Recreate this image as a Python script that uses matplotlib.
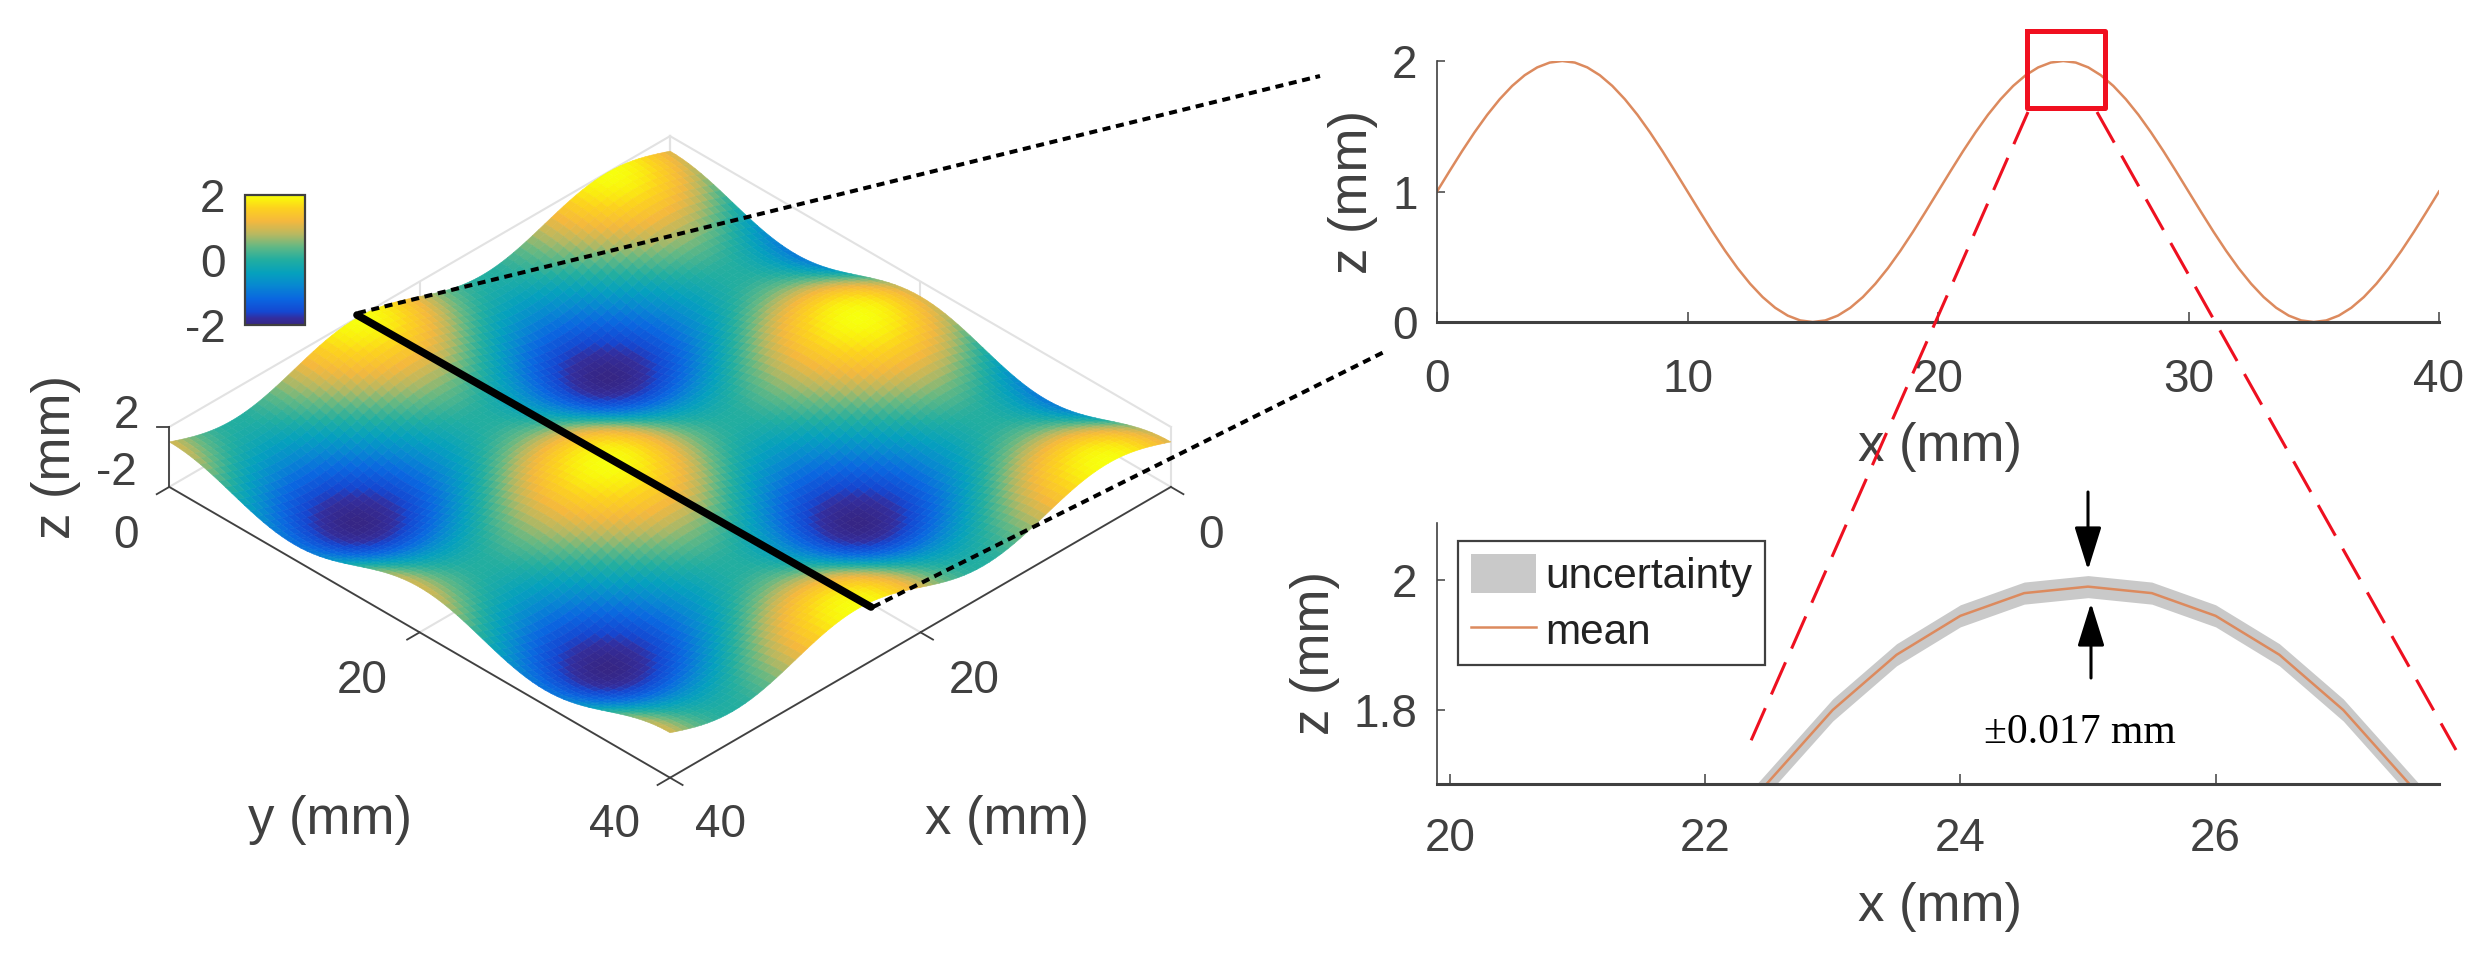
"""
Surface with a cross section and a zoomed view of the section peak
"""

import numpy as np
import matplotlib
matplotlib.use('Agg')
import matplotlib.pyplot as plt
from matplotlib.colors import LinearSegmentedColormap

W, H = 2483, 955
TEXT = '#404040'
ORANGE = '#DC8A5E'

plt.rcParams['font.family'] = ['Liberation Sans', 'DejaVu Sans']

# section through the surface, 0.5 mm steps
x_mm = [i * 0.5 for i in range(81)]
z_section = [1.000, 1.156, 1.309, 1.454, 1.588, 1.707, 1.809, 1.891, 1.951, 1.988,
             2.000, 1.988, 1.951, 1.891, 1.809, 1.707, 1.588, 1.454, 1.309, 1.156,
             1.000, 0.844, 0.691, 0.546, 0.412, 0.293, 0.191, 0.109, 0.049, 0.012,
             0.000, 0.012, 0.049, 0.109, 0.191, 0.293, 0.412, 0.546, 0.691, 0.844,
             1.000, 1.156, 1.309, 1.454, 1.588, 1.707, 1.809, 1.891, 1.951, 1.988,
             2.000, 1.988, 1.951, 1.891, 1.809, 1.707, 1.588, 1.454, 1.309, 1.156,
             1.000, 0.844, 0.691, 0.546, 0.412, 0.293, 0.191, 0.109, 0.049, 0.012,
             0.000, 0.012, 0.049, 0.109, 0.191, 0.293, 0.412, 0.546, 0.691, 0.844,
             1.000]
# height change along y, added to the section to get the surface
y_change = [1.000, 0.988, 0.951, 0.891, 0.809, 0.707, 0.588, 0.454, 0.309, 0.156,
            0.000, -0.156, -0.309, -0.454, -0.588, -0.707, -0.809, -0.891, -0.951, -0.988,
            -1.000, -0.988, -0.951, -0.891, -0.809, -0.707, -0.588, -0.454, -0.309, -0.156,
            0.000, 0.156, 0.309, 0.454, 0.588, 0.707, 0.809, 0.891, 0.951, 0.988,
            1.000, 0.988, 0.951, 0.891, 0.809, 0.707, 0.588, 0.454, 0.309, 0.156,
            0.000, -0.156, -0.309, -0.454, -0.588, -0.707, -0.809, -0.891, -0.951, -0.988,
            -1.000, -0.988, -0.951, -0.891, -0.809, -0.707, -0.588, -0.454, -0.309, -0.156,
            0.000, 0.156, 0.309, 0.454, 0.588, 0.707, 0.809, 0.891, 0.951, 0.988,
            1.000]

# zoomed view of the peak, 0.5 mm steps
x_zoom = [22.0, 22.5, 23.0, 23.5, 24.0, 24.5, 25.0, 25.5, 26.0, 26.5, 27.0, 27.5, 28.0]
z_mean = [1.58, 1.69, 1.80, 1.885, 1.945, 1.98, 1.99, 1.98, 1.945, 1.885, 1.80, 1.69, 1.58]
z_err = 0.017

# colours, bottom to top
cmap_stops = [0, 0.05, 0.1, 0.2, 0.3, 0.4, 0.5, 0.6, 0.7, 0.8, 0.9, 0.97, 1]
cmap_colors = [(0.21, 0.15, 0.52), (0.20, 0.18, 0.62), (0.08, 0.28, 0.82), (0.04, 0.40, 0.88),
               (0.03, 0.53, 0.82), (0.02, 0.63, 0.74), (0.13, 0.68, 0.63), (0.38, 0.72, 0.52),
               (0.72, 0.72, 0.38), (0.96, 0.72, 0.24), (0.99, 0.82, 0.12), (0.98, 0.95, 0.05),
               (0.97, 1.00, 0.05)]
surf_cmap = LinearSegmentedColormap.from_list('surf_cmap', list(zip(cmap_stops, cmap_colors)))


def px_axes(left, top, width, height, **kw):
    # axes placed by pixel box of the 2483x955 image
    return fig.add_axes([left / W, 1 - (top + height) / H, width / W, height / H], **kw)


fig = plt.figure(figsize=(W / 100, H / 100), dpi=100, facecolor='white')

# ---- 3D surface ----
# axes bigger than the box so nothing is clipped at the corners
ax3 = px_axes(2.5, -175.5, 1300, 1300, projection='3d', proj_type='ortho')
ax3.view_init(elev=35.5, azim=45)
ax3.set_box_aspect((1, 1, 0.104), zoom=0.75)
ax3.set_axis_off()
ax3.computed_zorder = False
ax3.set_xlim(0, 40)
ax3.set_ylim(0, 40)
ax3.set_zlim(-2, 2)

X, Y = np.meshgrid(x_mm, x_mm)
Z = (np.array(z_section) - 1)[None, :] + np.array(y_change)[:, None]

# light box and grid lines behind the surface
grid = dict(color='#E2E2E2', lw=1.5, zorder=1)
for v in [0, 20, 40]:
    ax3.plot([v, v], [0, 0], [-2, 2], **grid)
    ax3.plot([0, 0], [v, v], [-2, 2], **grid)
    ax3.plot([v, v], [0, 40], [-2, -2], **grid)
    ax3.plot([0, 40], [v, v], [-2, -2], **grid)
ax3.plot([0, 40], [0, 0], [2, 2], **grid)
ax3.plot([0, 0], [0, 40], [2, 2], **grid)

surf = ax3.plot_surface(X, Y, Z, cmap=surf_cmap, vmin=-2, vmax=2, rcount=81, ccount=81,
                        linewidth=0, antialiased=True, zorder=2)
surf.set_edgecolor('face')
surf.set_linewidth(0.4)

# front axis lines and ticks
axis = dict(color=TEXT, lw=1.3, zorder=3)
ax3.plot([40, 40], [0, 40], [-2, -2], **axis)
ax3.plot([0, 40], [40, 40], [-2, -2], **axis)
ax3.plot([40, 40], [0, 0], [-2, 2], **axis)
for v in [0, 20, 40]:
    ax3.plot([40, 41], [v, v], [-2, -2], **axis)
    ax3.plot([v, v], [40, 41], [-2, -2], **axis)
ax3.plot([40, 40.5], [0, -0.5], [2, 2], **axis)

# ---- colorbar ----
cax = px_axes(245, 195, 60, 130)
cb = fig.colorbar(surf, cax=cax, ticks=[-2, 0, 2])
cb.ax.yaxis.set_ticks_position('left')
cb.ax.set_yticklabels(['-2', '0', '2'])
cb.ax.tick_params(length=0, labelsize=33, labelcolor=TEXT, pad=14)
cb.outline.set_edgecolor(TEXT)
cb.outline.set_linewidth(1.6)

# ---- section ----
ax_top = px_axes(1437, 61, 1002, 261)
ax_top.plot(x_mm, z_section, color=ORANGE, lw=1.8)
ax_top.set_xlim(0, 40)
ax_top.set_ylim(0, 2)
ax_top.set_xticks([0, 10, 20, 30, 40])
ax_top.set_yticks([0, 1, 2])

# ---- zoomed peak ----
ax_zoom = px_axes(1437, 523, 1002, 261)
mean = np.array(z_mean)
band = ax_zoom.fill_between(x_zoom, mean - z_err, mean + z_err, color='#C9C9C9', lw=0,
                            label='uncertainty')
ax_zoom.plot(x_zoom, z_mean, color=ORANGE, lw=1.8, label='mean')
ax_zoom.set_xlim(19.9, 27.75)
ax_zoom.set_ylim(1.686, 2.088)
ax_zoom.set_xticks([20, 22, 24, 26])
ax_zoom.set_yticks([1.8, 2])
ax_zoom.set_yticklabels(['1.8', '2'])

for ax, pad_x in [(ax_top, 26), (ax_zoom, 24)]:
    for side in ['top', 'right']:
        ax.spines[side].set_visible(False)
    ax.spines['left'].set_linewidth(1.2)
    ax.spines['left'].set_color(TEXT)
    ax.spines['bottom'].set_linewidth(2.2)
    ax.spines['bottom'].set_color(TEXT)
    ax.tick_params(axis='x', direction='in', length=7, width=1.1, color=TEXT,
                   labelsize=33, labelcolor=TEXT, pad=pad_x)
    ax.tick_params(axis='y', direction='in', length=6, width=1.1, color=TEXT,
                   labelsize=33, labelcolor=TEXT, pad=14)
    ax.patch.set_alpha(0)

ax_top.set_xlabel('x (mm)', fontsize=38, color=TEXT, va='center')
ax_top.xaxis.set_label_coords(0.502, -0.479)
ax_top.set_ylabel('z (mm)', fontsize=38, color=TEXT, va='center')
ax_top.yaxis.set_label_coords(-0.084, 0.498)
ax_zoom.set_xlabel('x (mm)', fontsize=38, color=TEXT, va='center')
ax_zoom.xaxis.set_label_coords(0.502, -0.471)
ax_zoom.set_ylabel('z (mm)', fontsize=38, color=TEXT, va='center')
ax_zoom.yaxis.set_label_coords(-0.122, 0.502)

# ---- annotations, in image pixels ----
over = fig.add_axes([0, 0, 1, 1], zorder=10)
over.set_xlim(0, W)
over.set_ylim(H, 0)
over.axis('off')

leg = ax_zoom.legend(loc='upper left', bbox_to_anchor=(1458, 541), bbox_transform=over.transData,
                     borderaxespad=0, fontsize=30.5, frameon=True, fancybox=False, framealpha=1,
                     edgecolor=TEXT, handlelength=1.55, handleheight=1.05, handletextpad=0.2,
                     labelspacing=0.3, borderpad=0.3)
leg.get_frame().set_linewidth(1.6)
for t in leg.get_texts():
    t.set_color('#222222')

# cross-section line on the surface and its connectors
over.plot([357, 871], [315, 607], color='black', lw=5.5, solid_capstyle='round')
dots = dict(color='black', lw=2.9, linestyle=(0, (2.0, 1.4)))
over.plot([358, 1320], [313, 76], **dots)
over.plot([873, 1384], [607, 352], **dots)

# red zoom box and its guide lines
over.plot([2027, 2105, 2105, 2027, 2027], [31, 31, 108, 108, 31], color='#F01020', lw=3.6)
dash = dict(color='#EE1020', lw=2.2, linestyle=(0, (11.5, 4.9)))
over.plot([2028, 1746], [112, 752], **dash)
over.plot([2097, 2456], [112, 750], **dash)

# arrows for the band width
arrow = dict(arrowstyle='-|>,head_length=2.66,head_width=0.83', mutation_scale=10,
             color='black', lw=2.2, shrinkA=0, shrinkB=0)
over.annotate('', xy=(2088, 570), xytext=(2088, 492), arrowprops=arrow)
over.annotate('', xy=(2091, 603), xytext=(2091, 678), arrowprops=arrow)
over.text(2080, 733, '\u00b10.017 mm', family='Liberation Serif', fontsize=30, color='black',
          ha='center', va='center')

# 3D axis text
label3d = dict(color=TEXT, ha='center', va='center')
for s, px, py in [('0', 1211, 536), ('20', 974, 681), ('40', 721, 825),
                  ('0', 126, 536), ('20', 362, 681), ('40', 615, 825),
                  ('2', 126, 416), ('-2', 116, 473)]:
    over.text(px, py, s, fontsize=33, **label3d)
over.text(330, 820, 'y (mm)', fontsize=38, **label3d)
over.text(1007, 820, 'x (mm)', fontsize=38, **label3d)
over.text(56, 457, 'z (mm)', fontsize=38, rotation=90, **label3d)

fig.savefig('out.png', dpi=100)
